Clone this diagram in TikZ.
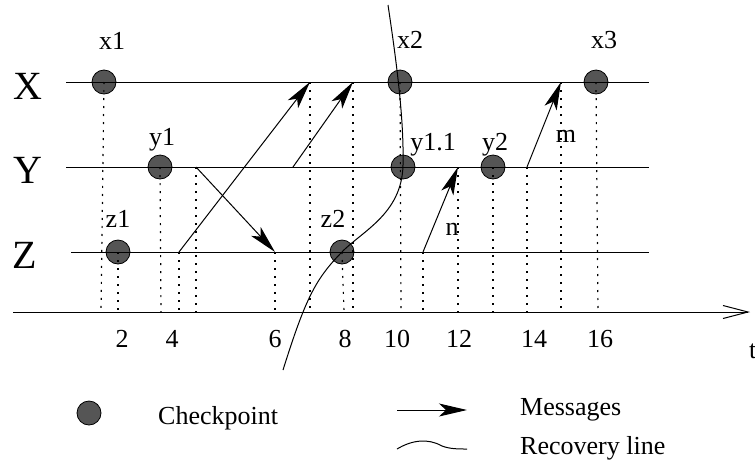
\documentclass[tikz,border=0pt]{standalone}
\usepackage{fontspec}
\setmainfont{Liberation Serif}
\usetikzlibrary{arrows.meta}
\definecolor{ckgray}{RGB}{85,85,85}
\begin{document}
\begin{tikzpicture}[x=1pt,y=-1pt,
  proc/.style={line width=1pt},
  axisline/.style={line width=1pt, -{Straight Barb[length=25pt,width=13pt]}},
  ckpt/.style={circle, draw=black, fill=ckgray, line width=0.8pt, minimum size=24pt, inner sep=0pt},
  msg/.style={line width=1pt, -{Stealth[length=28pt,width=13pt,inset=7pt]}},
  vdot/.style={line width=1.2pt, dash pattern=on 2pt off 6pt},
  lbl/.style={font=\fontsize{26}{31}\selectfont, inner sep=0pt, anchor=base},
  big/.style={font=\fontsize{40}{48}\selectfont, inner sep=0pt, anchor=base},
  rec/.style={line width=1pt}
]
\useasboundingbox (0,0) rectangle (755,459);

% checkpoints
\node[ckpt] (x1) at (104,82) {};
\node[ckpt] (x2) at (400,82) {};
\node[ckpt] (x3) at (596,82) {};
\node[ckpt] (y1) at (160,167) {};
\node[ckpt] (y11) at (403,167) {};
\node[ckpt] (y2) at (493,167) {};
\node[ckpt] (z1) at (118,252) {};
\node[ckpt] (z2) at (342,252) {};

% process lines
\coordinate (Xs) at (66,82);  \coordinate (Xe) at (649,82);
\coordinate (Ys) at (66,167); \coordinate (Ye) at (649,167);
\coordinate (Zs) at (71,252); \coordinate (Ze) at (649,252);
\draw[proc] (Xs) -- (Xe);
\draw[proc] (Ys) -- (Ye);
\draw[proc] (Zs) -- (Ze);

% time axis
\coordinate (As) at (13,312); \coordinate (Ae) at (750,312);
\draw[axisline] (As) -- (Ae);

% message events
\coordinate (m1s) at (179,252); \coordinate (m1e) at (310,82);
\coordinate (m2s) at (293,167); \coordinate (m2e) at (353,82);
\coordinate (m3s) at (196,167); \coordinate (m3e) at (275,252);
\coordinate (ns) at (423,252);  \coordinate (ne) at (458,167);
\coordinate (ms) at (527,167);  \coordinate (me) at (561,82);

% dotted projections
\foreach \p/\x in {x1/101, z1/118, y1/161, m1s/179, m3s/196, m3e/275, m1e/310, z2/344, m2e/353, x2/401, ns/423, ne/458, y2/493, ms/527, me/561, x3/598}{
  \coordinate (t\p) at (\x,312);
  \draw[vdot] (\p.center) -- (t\p);
}

% messages
\draw[msg] (m1s) -- (m1e);
\draw[msg] (m2s) -- (m2e);
\draw[msg] (m3s) -- (m3e);
\draw[msg] (ns) -- (ne);
\draw[msg] (ms) -- (me);

% recovery line
\coordinate (r0) at (388,5); \coordinate (r1) at (403,165);
\coordinate (r2) at (340,254); \coordinate (r3) at (283,370);
\draw[rec] (r0) .. controls (397,65) and (404,120) .. (r1)
  .. controls (402,215) and (360,232) .. (r2)
  .. controls (315,280) and (305,300) .. (r3);

% labels
\node[lbl] (lx1) at (112,49) {x1};
\node[lbl] (ly1) at (162,145) {y1};
\node[lbl] (lx2) at (410,48) {x2};
\node[lbl] (lx3) at (604,48) {x3};
\node[lbl] (ly11) at (433,150) {y1.1};
\node[lbl] (ly2) at (495,150) {y2};
\node[lbl] (lm) at (566,142) {m};
\node[lbl] (lz1) at (118,227) {z1};
\node[lbl] (lz2) at (333,227) {z2};
\node[lbl] (ln) at (452,235) {n};

\node[big] (PX) at (28,99) {X};
\node[big] (PY) at (28,183) {Y};
\node[big] (PZ) at (25,268) {Z};

% ticks
\foreach \v/\x in {2/122, 4/172, 6/275, 8/345, 10/397, 12/459, 14/534, 16/600}{
  \node[lbl] (tick\v) at (\x,347) {\v};
}
\node[lbl, anchor=base west] (lt) at (749,358) {t};

% legend
\node[ckpt] (lgc) at (89,413) {};
\node[lbl, anchor=base west] (lgct) at (158,424) {Checkpoint};
\coordinate (la0) at (397,410); \coordinate (la1) at (467,410);
\draw[msg] (la0) -- (la1);
\node[lbl, anchor=base west] (lgm) at (520,415) {Messages};
\coordinate (lw0) at (397,449); \coordinate (lw1) at (467,449);
\draw[rec] (lw0) .. controls (412,440) and (428,438) .. (442,446)
  .. controls (450,449) and (458,449) .. (lw1);
\node[lbl, anchor=base west] (lgr) at (520,454) {Recovery line};
\end{tikzpicture}
\end{document}
